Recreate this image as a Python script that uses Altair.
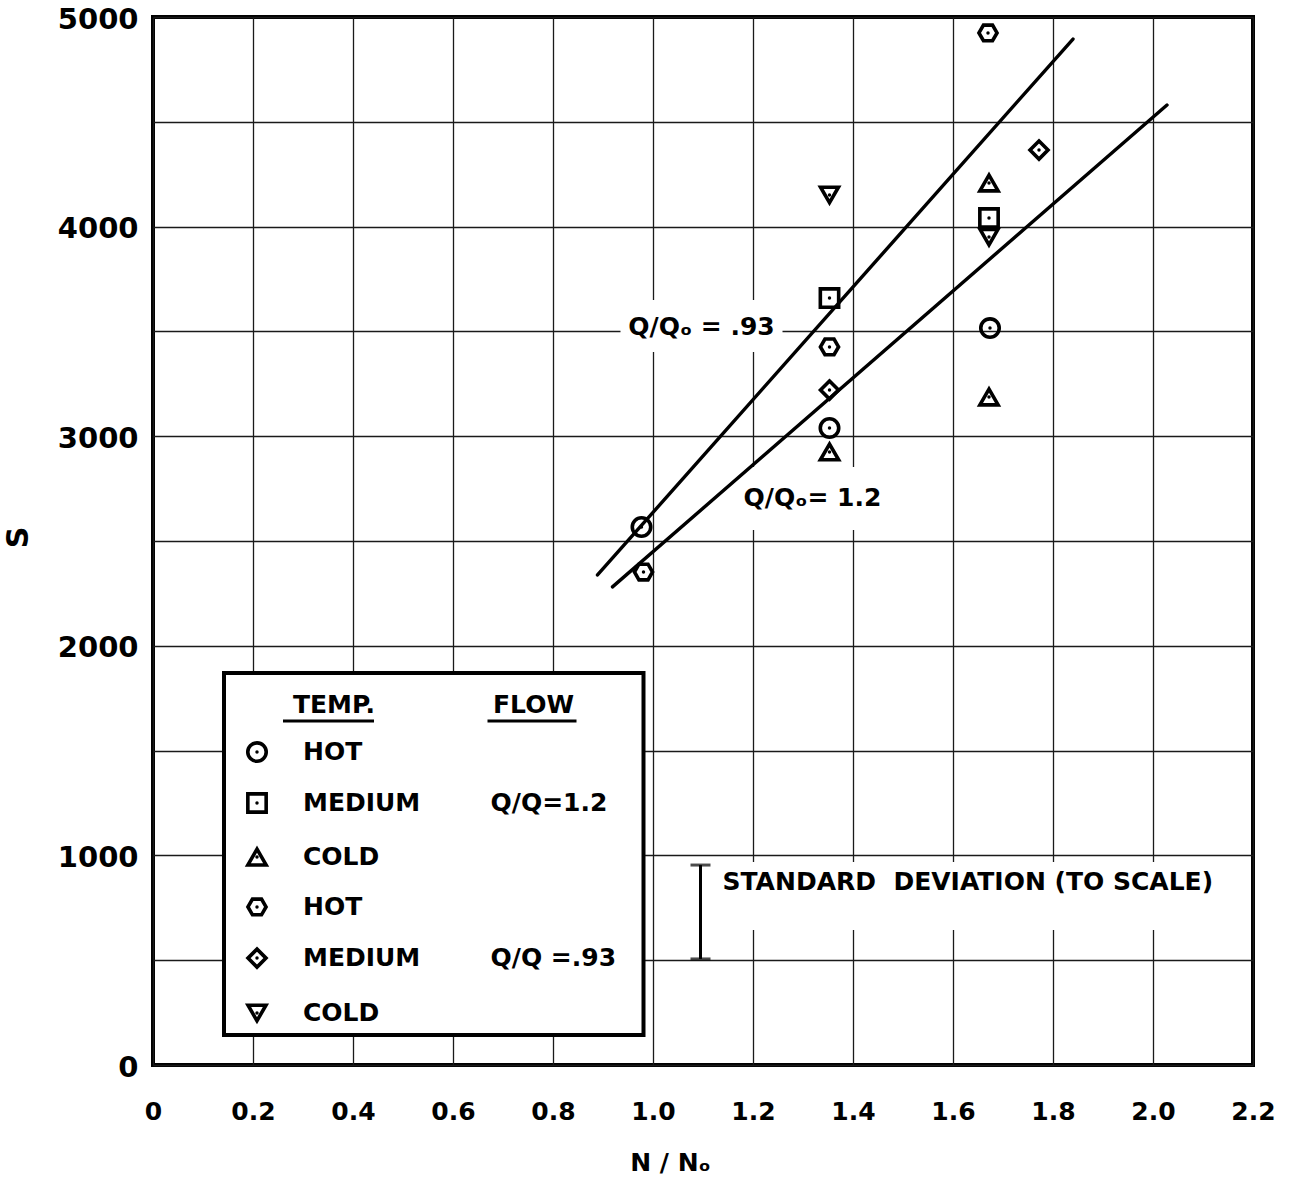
import altair as alt
import pandas as pd

FONT = "DejaVu Sans"

# ---- series definitions ----
series_keys = ["hot_12", "med_12", "cold_12", "hot_93", "med_93", "cold_93"]
HEX = "M -1 0 L -0.5 -0.866 L 0.5 -0.866 L 1 0 L 0.5 0.866 L -0.5 0.866 Z"
series_shapes = ["circle", "square", "triangle-up", HEX, "diamond", "triangle-down"]
series_sizes = [340, 320, 500, 560, 480, 520]

# ---- data points ----
pt_series = ["hot_12", "hot_12", "hot_12",
             "med_12", "med_12",
             "cold_12", "cold_12", "cold_12",
             "hot_93", "hot_93", "hot_93",
             "med_93", "med_93",
             "cold_93", "cold_93"]
pt_x = [0.977, 1.353, 1.674,
        1.353, 1.672,
        1.353, 1.672, 1.672,
        0.981, 1.353, 1.670,
        1.353, 1.772,
        1.353, 1.672]
pt_y = [2567, 3039, 3516,
        3659, 4041,
        2925, 3187, 4208,
        2352, 3426, 4924,
        3220, 4365,
        4151, 3950]

# ---- fitted lines ----
line_names = ["Q93", "Q93", "Q12", "Q12"]
line_x = [0.889, 1.840, 0.919, 2.028]
line_y = [2338, 4895, 2281, 4580]

# ---- line labels ----
lab_text = ["Q/Q\u2092 = .93", "Q/Q\u2092= 1.2"]
lab_x = [1.097, 1.319]
lab_y = [3521, 2705]

# white patches behind annotations (gridline breaks)
wb_x = [0.935, 1.175, 1.125]
wb_x2 = [1.259, 1.465, 2.194]
wb_y = [3402, 2552, 644]
wb_y2 = [3650, 2853, 969]

# ---- standard deviation marker ----
sd_x = [1.095]
sd_lo = [506]
sd_hi = [954]
sd_text = ["STANDARD\u00a0 DEVIATION (TO SCALE)"]
sd_text_x = [1.139]
sd_text_y = [873]

# ---- legend ----
leg_box_x = [0.142]
leg_box_x2 = [0.981]
leg_box_y = [143]
leg_box_y2 = [1870]
leg_sym_x = 0.208
leg_lab_x = 0.300
leg_rows_y = [1493, 1250, 992, 754, 510, 248]
leg_labels = ["HOT", "MEDIUM", "COLD", "HOT", "MEDIUM", "COLD"]
leg_flow_text = ["Q/Q=1.2", "Q/Q =.93"]
leg_flow_x = [0.675, 0.675]
leg_flow_y = [1250, 510]
leg_head_text = ["TEMP.", "FLOW"]
leg_head_x = [0.362, 0.761]
leg_head_y = [1718, 1718]
leg_ul_x = [0.260, 0.669]
leg_ul_x2 = [0.442, 0.847]
leg_ul_y = [1641, 1641]

# ---- axes ----
x_ticks = [0, 0.2, 0.4, 0.6, 0.8, 1.0, 1.2, 1.4, 1.6, 1.8, 2.0, 2.2]
y_ticks = [0, 500, 1000, 1500, 2000, 2500, 3000, 3500, 4000, 4500, 5000]

xs = alt.Scale(domain=[0, 2.2], nice=False, zero=False)
ys = alt.Scale(domain=[0, 5000], nice=False, zero=False)
shape_scale = alt.Scale(domain=series_keys, range=series_shapes)
size_scale = alt.Scale(domain=series_keys, range=series_sizes)

x_axis = alt.Axis(values=x_ticks, grid=True, ticks=False, domain=False,
                  labelFlush=False, labelOverlap=False,
                  labelExpr="datum.value == 0 ? '0' : format(datum.value, '.1f')",
                  labelFont=FONT, labelFontWeight="bold", labelFontSize=25,
                  labelColor="black", labelPadding=34,
                  title="N / N\u2092", titleFont=FONT, titleFontWeight="bold",
                  titleFontSize=25, titleColor="black",
                  titleX=517, titleY=97, titleBaseline="middle", titleAlign="center",
                  gridColor="#1a1a1a", gridWidth=1.3, gridOpacity=1)
y_axis = alt.Axis(values=y_ticks, grid=True, ticks=False, domain=False,
                  labelFlush=False, labelOverlap=False, labelOffset=2,
                  labelExpr="datum.value % 1000 == 0 ? '' + datum.value : ''",
                  labelFont=FONT, labelFontWeight="bold", labelFontSize=29,
                  labelColor="black", labelPadding=15,
                  title="S", titleFont=FONT, titleFontWeight="bold",
                  titleFontSize=30, titleColor="black",
                  titleX=-135, titleY=520, titleAngle=270,
                  titleBaseline="middle", titleAlign="center",
                  gridColor="#1a1a1a", gridWidth=1.3, gridOpacity=1)


def X(field):
    return alt.X(field, scale=xs, axis=x_axis)


def Y(field):
    return alt.Y(field, scale=ys, axis=y_axis)


# ---- data frames ----
pts = pd.DataFrame({"series": pt_series, "x": pt_x, "y": pt_y})
lines = pd.DataFrame({"name": line_names, "x": line_x, "y": line_y})
labs = pd.DataFrame({"text": lab_text, "x": lab_x, "y": lab_y})
wb = pd.DataFrame({"x": wb_x, "x2": wb_x2, "y": wb_y, "y2": wb_y2})
sd = pd.DataFrame({"x": sd_x, "lo": sd_lo, "hi": sd_hi})
sd_caps = pd.DataFrame({"x": sd_x * 2, "y": sd_lo + sd_hi})
sdt = pd.DataFrame({"text": sd_text, "x": sd_text_x, "y": sd_text_y})
lbox = pd.DataFrame({"x": leg_box_x, "x2": leg_box_x2, "y": leg_box_y, "y2": leg_box_y2})
lsym = pd.DataFrame({"series": series_keys, "x": [leg_sym_x] * 6, "y": leg_rows_y})
llab = pd.DataFrame({"text": leg_labels, "x": [leg_lab_x] * 6, "y": leg_rows_y})
lflow = pd.DataFrame({"text": leg_flow_text, "x": leg_flow_x, "y": leg_flow_y})
lhead = pd.DataFrame({"text": leg_head_text, "x": leg_head_x, "y": leg_head_y})
lul = pd.DataFrame({"x": leg_ul_x, "x2": leg_ul_x2, "y": leg_ul_y})

txt_kw = dict(font=FONT, fontWeight="bold", fontSize=25, color="black", baseline="middle")

white_bg = alt.Chart(wb).mark_rect(fill="white").encode(
    x=X("x:Q"), x2="x2:Q", y=Y("y:Q"), y2="y2:Q")

line_layer = alt.Chart(lines).mark_line(color="black", strokeWidth=3.4, strokeCap="round").encode(
    x=X("x:Q"), y=Y("y:Q"), detail="name:N")

point_layer = alt.Chart(pts).mark_point(filled=False, color="black", strokeWidth=3.6, opacity=1).encode(
    x=X("x:Q"), y=Y("y:Q"),
    shape=alt.Shape("series:N", scale=shape_scale, legend=None),
    size=alt.Size("series:N", scale=size_scale, legend=None),
)

dot_layer = alt.Chart(pts).mark_point(filled=True, color="black", size=12, shape="circle", opacity=1).encode(
    x=X("x:Q"), y=Y("y:Q"))

lab_layer = alt.Chart(labs).mark_text(align="center", **txt_kw).encode(
    x=X("x:Q"), y=Y("y:Q"), text="text:N")

sd_rule = alt.Chart(sd).mark_rule(color="black", strokeWidth=3).encode(
    x=X("x:Q"), y=Y("lo:Q"), y2="hi:Q")
sd_cap = alt.Chart(sd_caps).mark_tick(color="black", thickness=3, size=20, orient="horizontal").encode(
    x=X("x:Q"), y=Y("y:Q"))
sd_txt = alt.Chart(sdt).mark_text(align="left", **txt_kw).encode(
    x=X("x:Q"), y=Y("y:Q"), text="text:N")

leg_box = alt.Chart(lbox).mark_rect(fill="white", stroke="black", strokeWidth=4).encode(
    x=X("x:Q"), x2="x2:Q", y=Y("y:Q"), y2="y2:Q")
leg_sym = alt.Chart(lsym).mark_point(filled=False, color="black", strokeWidth=3.6, opacity=1).encode(
    x=X("x:Q"), y=Y("y:Q"),
    shape=alt.Shape("series:N", scale=shape_scale, legend=None),
    size=alt.Size("series:N", scale=size_scale, legend=None),
)
leg_dot = alt.Chart(lsym).mark_point(filled=True, color="black", size=12, shape="circle", opacity=1).encode(
    x=X("x:Q"), y=Y("y:Q"))
leg_lab = alt.Chart(llab).mark_text(align="left", **txt_kw).encode(
    x=X("x:Q"), y=Y("y:Q"), text="text:N")
leg_flow = alt.Chart(lflow).mark_text(align="left", **txt_kw).encode(
    x=X("x:Q"), y=Y("y:Q"), text="text:N")
leg_head = alt.Chart(lhead).mark_text(align="center", **txt_kw).encode(
    x=X("x:Q"), y=Y("y:Q"), text="text:N")
leg_ul = alt.Chart(lul).mark_rule(color="black", strokeWidth=3).encode(
    x=X("x:Q"), x2="x2:Q", y=Y("y:Q"))

chart = alt.layer(
    white_bg, line_layer, point_layer, dot_layer, lab_layer,
    sd_rule, sd_cap, sd_txt,
    leg_box, leg_sym, leg_dot, leg_lab, leg_flow, leg_head, leg_ul,
).properties(
    width=1100, height=1048,
    autosize=alt.AutoSizeParams(type="none"),
    padding={"left": 153, "top": 17, "right": 36, "bottom": 119},
    background="white",
).configure_view(stroke="black", strokeWidth=4)

chart.save("out.html", embed_options={"renderer": "svg", "actions": False})
